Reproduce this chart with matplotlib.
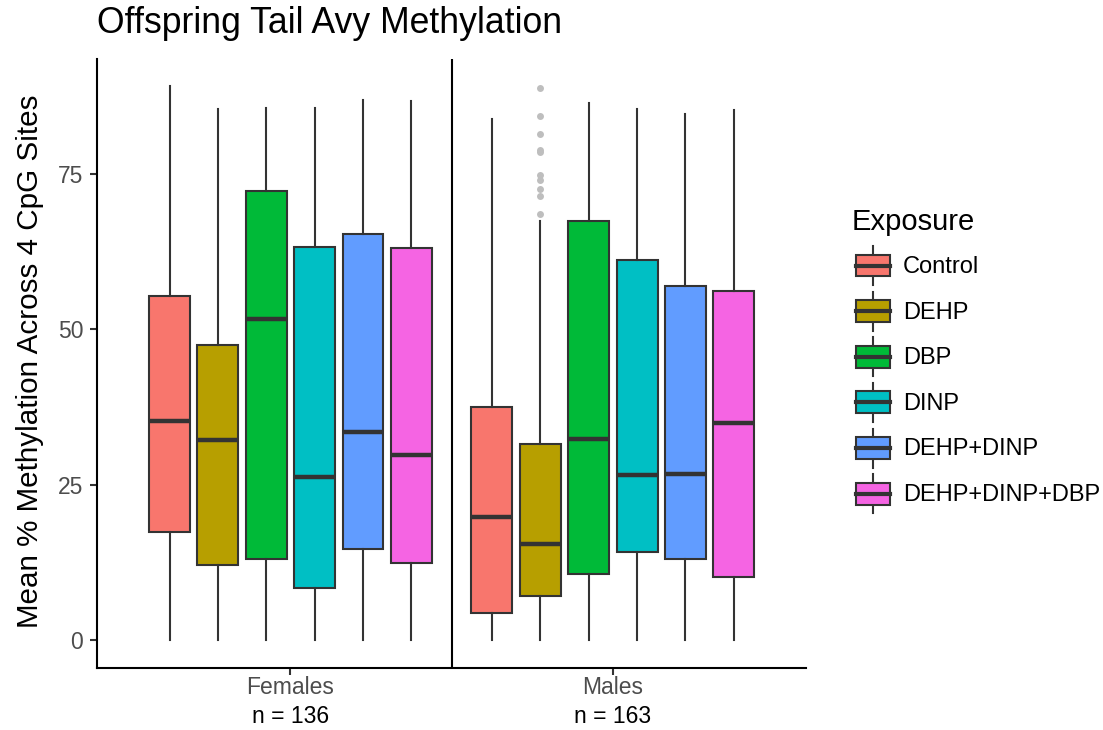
import matplotlib
matplotlib.use("Agg")
import matplotlib.pyplot as plt
from matplotlib.legend_handler import HandlerBase
from matplotlib.lines import Line2D
from matplotlib.patches import Rectangle, PathPatch

plt.rcParams['font.family'] = ['Liberation Sans', 'DejaVu Sans']

exposures = ["Control", "DEHP", "DBP", "DINP", "DEHP+DINP", "DEHP+DINP+DBP"]
colors = ["#F8766D", "#B79F00", "#00BA38", "#00BFC4", "#619CFF", "#F564E3"]
sexes = ["Females", "Males"]
n_counts = [136, 163]

# box stats (whisker low, q1, median, q3, whisker high)
female_lo = [0, 0, 0, 0, 0, 0]
female_q1 = [17.3, 12.1, 13.0, 8.3, 14.6, 12.4]
female_med = [35.3, 32.2, 51.7, 26.2, 33.5, 29.7]
female_q3 = [55.4, 47.4, 72.2, 63.3, 65.3, 63.1]
female_hi = [89.1, 85.5, 85.7, 85.7, 86.9, 86.8]

male_lo = [0, 0, 0, 0, 0, 0]
male_q1 = [4.3, 7.1, 10.6, 14.1, 13.1, 10.1]
male_med = [19.8, 15.5, 32.4, 26.6, 26.7, 35.0]
male_q3 = [37.5, 31.6, 67.5, 61.2, 57.0, 56.2]
male_hi = [83.8, 67.5, 86.5, 85.4, 84.6, 85.3]

male_dehp_outliers = [88.9, 84.4, 81.4, 78.8, 78.5, 74.8, 74.1, 72.6, 71.5, 68.6]

EDGE = "#333333"
DODGE = 0.15
BOX_W = 0.127


def make_stats(lo, q1, med, q3, hi, fliers=None):
    stats = []
    for i in range(len(exposures)):
        stats.append({
            "whislo": lo[i], "q1": q1[i], "med": med[i], "q3": q3[i],
            "whishi": hi[i], "fliers": (fliers or {}).get(i, []),
            "label": exposures[i],
        })
    return stats


class BoxKey(HandlerBase):
    # ggplot style key: whisker through a filled box with a median bar
    def create_artists(self, legend, orig_handle, xdescent, ydescent,
                       width, height, fontsize, trans):
        x0, y0 = -xdescent, -ydescent
        cx = x0 + width / 2
        whisker = Line2D([cx, cx], [y0, y0 + height], color=EDGE, lw=1.5,
                         transform=trans)
        box = Rectangle((x0, y0 + height * 0.22), width, height * 0.56,
                        facecolor=orig_handle.get_facecolor(), edgecolor=EDGE,
                        lw=1.5, transform=trans)
        med = Line2D([x0, x0 + width], [y0 + height / 2] * 2, color=EDGE,
                     lw=3, transform=trans)
        return [whisker, box, med]


fig = plt.figure(figsize=(11.03, 7.30), dpi=100)
ax = fig.add_axes([97 / 1103, 1 - 667.6 / 730, 709.3 / 1103, 608.2 / 730])

groups = [
    make_stats(female_lo, female_q1, female_med, female_q3, female_hi),
    make_stats(male_lo, male_q1, male_med, male_q3, male_hi,
               {1: male_dehp_outliers}),
]

handles = None
for g, stats in enumerate(groups):
    positions = [g + 1 + (i - 2.5) * DODGE for i in range(len(exposures))]
    bp = ax.bxp(stats, positions=positions, widths=BOX_W, patch_artist=True,
                showcaps=False,
                boxprops=dict(edgecolor=EDGE, linewidth=1.5),
                whiskerprops=dict(color=EDGE, linewidth=1.5),
                medianprops=dict(color=EDGE, linewidth=3.2, solid_capstyle="butt"),
                flierprops=dict(marker="o", markerfacecolor="#BEBEBE",
                                markeredgecolor="none", markersize=5))
    for patch, c in zip(bp["boxes"], colors):
        patch.set_facecolor(c)
    if handles is None:
        handles = bp["boxes"]

ax.axvline(1.5, color="black", lw=1.5)

ax.set_xlim(0.4, 2.6)
ax.set_ylim(-4.45, 93.45)
ax.set_xticks([1, 2])
ax.set_xticklabels(sexes)
ax.set_yticks([0, 25, 50, 75])
ax.tick_params(axis="both", length=5, width=1.5, color=EDGE,
               labelcolor="#4D4D4D", labelsize=16.5)
ax.tick_params(axis="x", pad=1)
ax.tick_params(axis="y", pad=5)
for side in ["top", "right"]:
    ax.spines[side].set_visible(False)
for side in ["left", "bottom"]:
    ax.spines[side].set_linewidth(1.5)
    ax.spines[side].set_color("black")

for g, n in enumerate(n_counts):
    ax.text(g + 1, (667.6 - 723) / 608.2, f"n = {n}", transform=ax.get_xaxis_transform(),
            ha="center", va="baseline", fontsize=16.5, color="black")

fig.text(97 / 1103, 1 - 33 / 730, "Offspring Tail Avy Methylation",
         fontsize=25.7, ha="left", va="baseline")
fig.text(37.7 / 1103, 1 - 361.5 / 730, "Mean % Methylation Across 4 CpG Sites",
         fontsize=21.3, rotation=90, rotation_mode="anchor",
         ha="center", va="baseline")

# legend title drawn on its own so the gap below it matches ggplot
fig.text(852 / 1103, 1 - 230 / 730, "Exposure", fontsize=21,
         ha="left", va="baseline")
fig.legend(handles, exposures, loc="upper left",
           bbox_to_anchor=(856 / 1103, 1 - 246 / 730), frameon=False,
           fontsize=17, handlelength=1.44,
           handleheight=2.166, handletextpad=0.55, labelspacing=0.28,
           borderpad=0, borderaxespad=0,
           handler_map={PathPatch: BoxKey()})

fig.savefig("out.png", dpi=100)
